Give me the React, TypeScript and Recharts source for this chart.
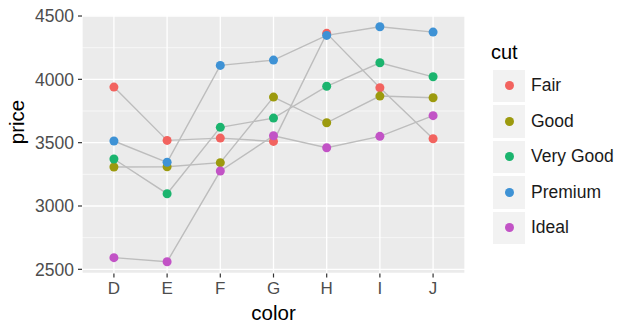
import { LineChart, Line, XAxis, YAxis, CartesianGrid, ReferenceLine, Legend } from 'recharts';

const colorLevels = ['D', 'E', 'F', 'G', 'H', 'I', 'J'];
const cuts = ['Fair', 'Good', 'Very Good', 'Premium', 'Ideal'];
const cutColors = ['#F2635F', '#9C9A0E', '#1BB46E', '#3E92D5', '#C253C6'];

const fair = [3939, 3518, 3536, 3510, 4363, 3934, 3531];
const good = [3308, 3310, 3342, 3860, 3657, 3868, 3855];
const veryGood = [3371, 3097, 3621, 3694, 3945, 4131, 4020];
const premium = [3513, 3345, 4110, 4152, 4347, 4415, 4373];
const ideal = [2592, 2560, 3276, 3555, 3460, 3550, 3713];

const yTicks = [2500, 3000, 3500, 4000, 4500];
const yMinor = [2750, 3250, 3750, 4250];

const seriesValues = [fair, good, veryGood, premium, ideal];

const chartData = colorLevels.map((c, i) => {
    const row: any = { color: c, idx: i };
    cuts.forEach((cut, k) => { row[cut] = seriesValues[k][i]; });
    return row;
});

const font = '"Liberation Sans", Arial, Helvetica, sans-serif';

function CutLegend() {
    return (
        <div style={{ fontFamily: font, color: '#1a1a1a' }}>
            <div style={{ fontSize: 20, height: 29, lineHeight: '29px', color: '#000' }}>cut</div>
            <div style={{ marginTop: 2.5 }}>
                {cuts.map((cut, i) => (
                    <div key={cut} style={{ display: 'flex', alignItems: 'center', height: 35.5 }}>
                        <div style={{
                            width: 32, height: 32.5, marginLeft: 2, background: '#F2F2F2',
                            display: 'flex', alignItems: 'center', justifyContent: 'center', alignSelf: 'flex-start'
                        }}>
                            <div style={{ width: 9, height: 9, borderRadius: '50%', background: cutColors[i] }} />
                        </div>
                        <span style={{ fontSize: 17.5, marginLeft: 6, marginTop: -3, whiteSpace: 'nowrap' }}>{cut}</span>
                    </div>
                ))}
            </div>
        </div>
    );
}

export default function App() {
    return (
        <div style={{ position: 'absolute', left: 0, top: 0, width: 619, height: 324, background: '#fff', fontFamily: font }}>
            <LineChart width={619} height={324} data={chartData} margin={{ top: 15, right: 154, bottom: 0, left: 0 }}>
                <CartesianGrid fill="#EBEBEB" stroke="#FFFFFF" strokeWidth={1.3} />
                {yMinor.map(v => (
                    <ReferenceLine key={v} y={v} stroke="#FFFFFF" strokeWidth={0.6} />
                ))}
                <XAxis
                    type="number"
                    dataKey="idx"
                    domain={[-0.6, 6.6]}
                    ticks={colorLevels.map((_, i) => i)}
                    tickFormatter={(i: number) => colorLevels[i]}
                    allowDataOverflow
                    height={50.5}
                    axisLine={false}
                    tickSize={4}
                    tickLine={{ stroke: '#333333', strokeWidth: 1.2 }}
                    tickMargin={4}
                    tick={{ fill: '#4D4D4D', fontSize: 17, fontFamily: font }}
                    label={{ value: 'color', position: 'insideBottom', offset: 4, fill: '#000', fontSize: 20.5, fontFamily: font }}
                />
                <YAxis
                    domain={[2467, 4508]}
                    ticks={yTicks}
                    allowDataOverflow
                    width={82}
                    axisLine={false}
                    tickSize={4}
                    tickLine={{ stroke: '#333333', strokeWidth: 1.2 }}
                    tickMargin={4}
                    tick={{ fill: '#4D4D4D', fontSize: 17.5, fontFamily: font }}
                    label={{ value: 'price', angle: -90, position: 'insideLeft', offset: 17, fill: '#000', fontSize: 20.5, fontFamily: font }}
                />
                {cuts.map(cut => (
                    <Line
                        key={'line-' + cut}
                        dataKey={cut}
                        stroke="#BDBDBD"
                        strokeWidth={1.4}
                        dot={false}
                        activeDot={false}
                        isAnimationActive={false}
                    />
                ))}
                {cuts.map((cut, i) => (
                    <Line
                        key={'pt-' + cut}
                        dataKey={cut}
                        stroke="none"
                        dot={{ r: 4.5, fill: cutColors[i], stroke: 'none' }}
                        activeDot={false}
                        isAnimationActive={false}
                        legendType="none"
                    />
                ))}
                <Legend
                    layout="vertical"
                    align="center"
                    verticalAlign="middle"
                    wrapperStyle={{ left: 491, top: 38, width: 128 }}
                    content={() => <CutLegend />}
                />
            </LineChart>
        </div>
    );
}
